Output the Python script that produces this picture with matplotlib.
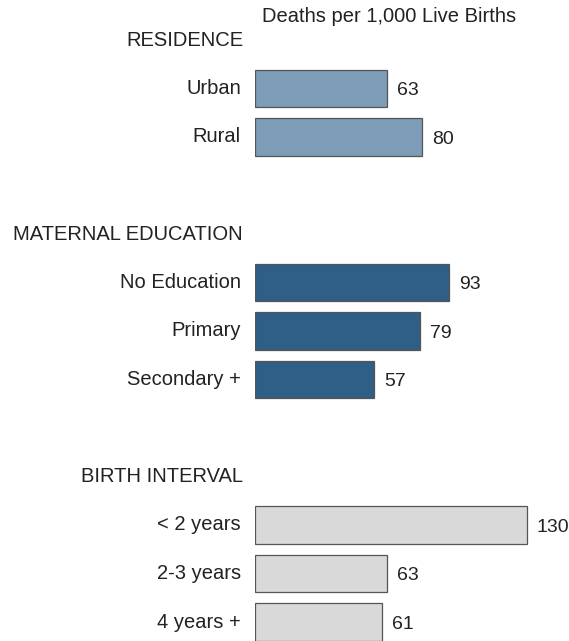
import matplotlib.pyplot as plt

plt.rcParams['font.family'] = ['Liberation Sans', 'DejaVu Sans']

# data
groups = ["RESIDENCE", "MATERNAL EDUCATION", "BIRTH INTERVAL"]
residence_labels = ["Urban", "Rural"]
residence_values = [63, 80]
education_labels = ["No Education", "Primary", "Secondary +"]
education_values = [93, 79, 57]
interval_labels = ["< 2 years", "2-3 years", "4 years +"]
interval_values = [130, 63, 61]
group_colors = ["#7c9cb8", "#2f5f86", "#d9d9d9"]

W, H = 569, 641
fig = plt.figure(figsize=(W / 100, H / 100), dpi=100)

# one slot = 48.5 px, slot 0 centred at y=40 px
slot = 48.5
y0 = 40
left_px = 255
px_per_unit = 2.09
xmax = (W - left_px) / px_per_unit
ax = fig.add_axes([left_px / W, 0, 1 - left_px / W, 1])
ax.set_xlim(0, xmax)
ax.set_ylim((H - y0) / slot, -y0 / slot)
ax.axis("off")

fs = 14.5
label_x = -14 / px_per_unit
header_x = -12 / px_per_unit

pos = 0
for g, labels, values, col in zip(
        groups,
        [residence_labels, education_labels, interval_labels],
        [residence_values, education_values, interval_values],
        group_colors):
    ax.text(header_x, pos, g, ha="right", va="center", fontsize=fs,
            color="#222222", clip_on=False)
    pos += 1
    for lab, v in zip(labels, values):
        ax.barh(pos, v, height=0.77, color=col, edgecolor="#555555",
                linewidth=0.9)
        ax.text(label_x, pos, lab, ha="right", va="center", fontsize=fs,
                color="#222222", clip_on=False)
        ax.text(v + 10 / px_per_unit, pos + 0.05, str(v), ha="left",
                va="center", fontsize=fs - 0.5, color="#222222")
        pos += 1
    pos += 1

fig.text(262 / W, 1 - 17 / H, "Deaths per 1,000 Live Births", ha="left",
         va="center", fontsize=fs, color="#222222")

fig.savefig("out.png", dpi=100, facecolor="white")
